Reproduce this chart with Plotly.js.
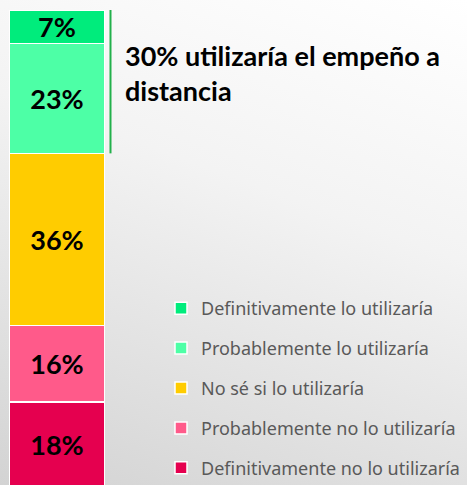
<!DOCTYPE html>
<html>
<head>
<meta charset="utf-8">
<script src="https://cdn.plot.ly/plotly-3.0.1.min.js"></script>
<style>
html,body{margin:0;padding:0;}
body{width:467px;height:485px;overflow:hidden;background:linear-gradient(200deg,#ffffff 0%,#f3f3f3 40%,#d3d3d3 100%);}
#chart{width:467px;height:485px;}
</style>
</head>
<body>
<div id="chart"></div>
<script>
// bottom to top
var categories = ["Definitivamente no lo utilizaría","Probablemente no lo utilizaría","No sé si lo utilizaría","Probablemente lo utilizaría","Definitivamente lo utilizaría"];
var values = [18, 16, 36, 23, 7];
var labels = ["18%","16%","36%","23%","7%"];
var colors = ["#E5004F","#FF5A8A","#FFCC00","#4DFFA6","#00EC7C"];
var calloutText = "30% utilizaría el empeño a<br>distancia";
var calloutShare = values[3] + values[4];

var traces = categories.map(function(c, i){
  return {
    type: "bar",
    x: [0],
    y: [values[i]],
    name: c,
    legendgroup: "g" + i,
    legendrank: categories.length - i,
    width: 1,
    text: [labels[i]],
    textposition: "inside",
    insidetextanchor: "middle",
    constraintext: "none",
    textangle: 0,
    textfont: {family: "Lato", size: 27, color: "#000000", weight: 700},
    marker: {color: colors[i], line: {color: "#ffffff", width: 1.5}},
    hoverinfo: "none"
  };
});

var total = values.reduce(function(a,b){return a+b;}, 0);

var layout = {
  width: 467, height: 485,
  margin: {l: 9, r: 362, t: 10, b: 0, autoexpand: false},
  paper_bgcolor: "rgba(0,0,0,0)",
  plot_bgcolor: "rgba(0,0,0,0)",
  barmode: "stack",
  showlegend: true,
  xaxis: {visible: false, range: [-0.5, 0.5], fixedrange: true},
  yaxis: {visible: false, range: [0.6, total], fixedrange: true},
  legend: {
    traceorder: "grouped",
    xref: "container", yref: "container",
    x: 161/467, xanchor: "left",
    y: 1 - 290/485, yanchor: "top",
    bgcolor: "rgba(0,0,0,0)",
    font: {family: "Noto Sans", size: 18, color: "#595959"},
    tracegroupgap: 13.5
  },
  shapes: [{
    type: "line", xref: "paper", yref: "y",
    x0: 1 + 5.5/96, x1: 1 + 5.5/96,
    y0: total - calloutShare, y1: total,
    line: {color: "#22B04B", width: 2}
  }],
  annotations: [{
    xref: "paper", yref: "paper",
    x: (123-9)/96, xanchor: "left",
    y: 1 - (37-10)/475, yanchor: "top",
    align: "left",
    showarrow: false,
    text: calloutText,
    font: {family: "Lato", size: 27, color: "#000000", weight: 700}
  }]
};

Plotly.newPlot("chart", traces, layout, {displayModeBar: false, staticPlot: true});
</script>
</body>
</html>
